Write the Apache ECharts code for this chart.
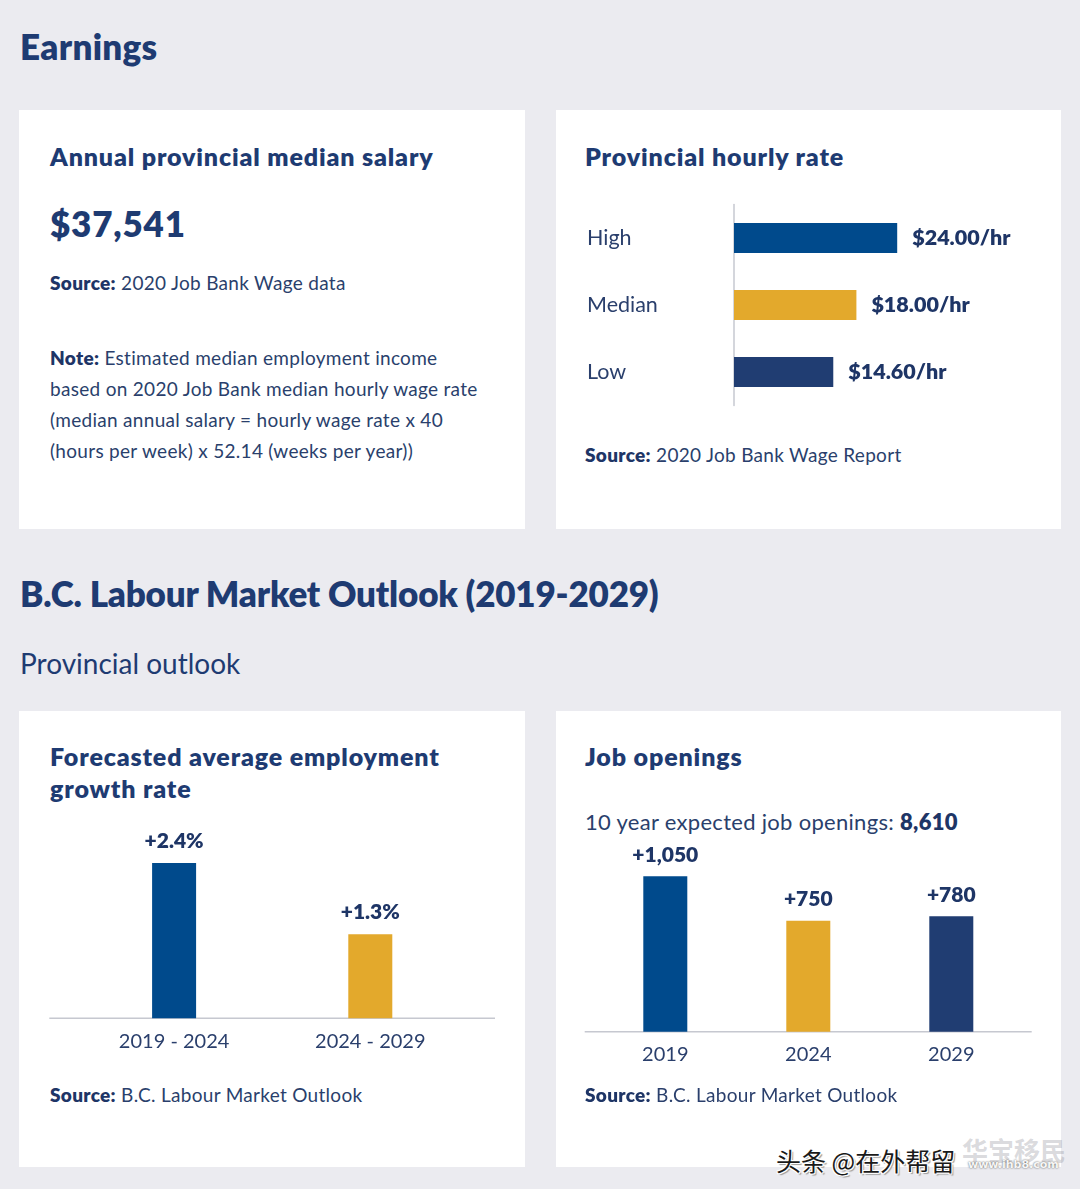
<!DOCTYPE html>
<html>
<head>
<meta charset="utf-8">
<script src="https://cdn.jsdelivr.net/npm/echarts@6/dist/echarts.min.js"></script>
<style>
  html, body { margin:0; padding:0; }
  body { width:1080px; height:1189px; background:#ebebf0; position:relative; overflow:hidden; font-family:'Lato', 'Noto Sans', sans-serif; color:#1f3a6d; }
  .card { position:absolute; background:#ffffff; }
  .t { position:absolute; white-space:nowrap; line-height:1; margin:0; }
  .h1 { font-size:35px; font-weight:800; color:#1e3b72; letter-spacing:-0.2px; }
  .h3 { font-size:25px; font-weight:800; color:#1e3b72; letter-spacing:0.85px; }
  .body { font-size:19px; font-weight:400; color:#2a3f6c; letter-spacing:0.3px; }
  .body b { font-weight:800; color:#1e3566; }
  .chart { position:absolute; }
  .wm { position:absolute; white-space:nowrap; font-family:'Noto Sans CJK SC', sans-serif; }
</style>
</head>
<body>
<div class="t h1" style="left:20px; top:29px; letter-spacing:0.3px;">Earnings</div>

<div class="card" style="left:19px; top:110px; width:506px; height:419px;"></div>
<div class="card" style="left:556px; top:110px; width:505px; height:419px;"></div>

<div class="t h3" style="left:50px; top:144px;">Annual provincial median salary</div>
<div class="t" style="left:50px; top:206px; font-size:35px; font-weight:800; color:#1e3b72; letter-spacing:0.8px;">$37,541</div>
<div class="t body" style="left:50px; top:273px;"><b>Source:</b> 2020 Job Bank Wage data</div>
<div class="t body" style="left:50px; top:342px; line-height:31px;"><b>Note:</b> Estimated median employment income<br>based on 2020 Job Bank median hourly wage rate<br>(median annual salary = hourly wage rate x 40<br>(hours per week) x 52.14 (weeks per year))</div>

<div class="t h3" style="left:585px; top:144px;">Provincial hourly rate</div>
<div id="hourly" class="chart" style="left:556px; top:195px; width:505px; height:225px;"></div>
<div class="t body" style="left:585px; top:445px;"><b>Source:</b> 2020 Job Bank Wage Report</div>

<div class="t h1" style="left:20px; top:576px;">B.C. Labour Market Outlook (2019-2029)</div>
<div class="t" style="left:20px; top:649px; font-size:28px; font-weight:400; color:#1e3b72;">Provincial outlook</div>

<div class="card" style="left:19px; top:711px; width:506px; height:456px;"></div>
<div class="card" style="left:556px; top:711px; width:505px; height:456px;"></div>

<div class="t h3" style="left:50px; top:740px; line-height:32px;">Forecasted average employment<br>growth rate</div>
<div id="growth" class="chart" style="left:19px; top:800px; width:506px; height:280px;"></div>
<div class="t body" style="left:50px; top:1085px;"><b>Source:</b> B.C. Labour Market Outlook</div>

<div class="t h3" style="left:585px; top:744px;">Job openings</div>
<div class="t" style="left:585px; top:811px; font-size:22px; color:#2a3f6c; letter-spacing:0.3px;">10 year expected job openings: <b style="color:#1e3566; font-weight:800;">8,610</b></div>
<div id="jobs" class="chart" style="left:556px; top:830px; width:505px; height:260px;"></div>
<div class="t body" style="left:585px; top:1085px;"><b>Source:</b> B.C. Labour Market Outlook</div>

<div class="wm" style="left:962px; top:1131px; font-size:26px; font-weight:700; color:rgba(130,130,140,0.3);">华宝移民</div>
<div class="wm" style="left:968px; top:1158px; font-size:11px; font-weight:700; font-family:'DejaVu Sans'; color:rgba(255,255,255,0.95); text-shadow:0 0 2px #444;">www.ihb8.com</div>
<div class="wm" style="left:776px; top:1142px; font-size:25px; color:#1a1a1a; text-shadow:1px 1px 0 #fff, -1px -1px 0 #fff, 1px -1px 0 #fff, -1px 1px 0 #fff, 2px 2px 1px #999;">头条 @在外帮留</div>

<script>
// ---- data ----
const hourlyCategories = ['High', 'Median', 'Low'];
const hourlyValues = [24.00, 18.00, 14.60];

const growthCategories = ['2019 - 2024', '2024 - 2029'];
const growthValues = [2.4, 1.3];

const jobCategories = ['2019', '2024', '2029'];
const jobValues = [1050, 750, 780];

// ---- styles ----
const BLUE = '#004a8c', GOLD = '#e3a92c', NAVY = '#203d72';
const TEXT = '#1e3566', TEXT_LIGHT = '#2a3f6c', AXIS = '#c6c8d0';
const FONT = 'Lato';

function colored(values, palette) {
  return values.map((v, i) => ({ value: v, itemStyle: { color: palette[i % palette.length] } }));
}

// Hourly rate (horizontal bars)
const hourly = echarts.init(document.getElementById('hourly'), null, { renderer: 'canvas' });
hourly.setOption({
  animation: false,
  textStyle: { fontFamily: FONT },
  grid: { left: 178, right: 55, top: 9.5, bottom: 14.5 },
  xAxis: { type: 'value', min: 0, max: 40, show: false },
  yAxis: {
    type: 'category', inverse: true, data: hourlyCategories,
    axisLine: { lineStyle: { color: AXIS, width: 1.5 } },
    axisTick: { show: false },
    axisLabel: { align: 'left', margin: 147, fontSize: 21.5, color: TEXT_LIGHT, fontFamily: FONT }
  },
  series: [{
    type: 'bar', barWidth: 30,
    data: colored(hourlyValues, [BLUE, GOLD, NAVY]),
    label: {
      show: true, position: 'right', distance: 15,
      formatter: p => '$' + p.value.toFixed(2) + '/hr',
      fontSize: 21.5, fontWeight: 800, color: TEXT, fontFamily: FONT
    }
  }]
});

// Growth rate
const growth = echarts.init(document.getElementById('growth'), null, { renderer: 'canvas' });
growth.setOption({
  animation: false,
  textStyle: { fontFamily: FONT },
  grid: { left: 57, right: 56.6, top: 24.3, bottom: 61.7 },
  xAxis: {
    type: 'category', data: growthCategories,
    axisLine: { show: false }, axisTick: { show: false },
    axisLabel: { margin: 13, fontSize: 20, color: TEXT_LIGHT, fontFamily: FONT }
  },
  yAxis: { type: 'value', min: 0, max: 3, show: false },
  graphic: [{ type: 'line', z: -1, shape: { x1: 30.3, y1: 218.3, x2: 476, y2: 218.3 }, style: { stroke: AXIS, lineWidth: 1.5 } }],
  series: [{
    type: 'bar', barWidth: 44,
    data: colored(growthValues, [BLUE, GOLD]),
    label: {
      show: true, position: 'top', distance: 11,
      formatter: p => '+' + p.value.toFixed(1) + '%',
      fontSize: 21, fontWeight: 800, color: TEXT, fontFamily: FONT
    }
  }]
});

// Job openings
const jobs = echarts.init(document.getElementById('jobs'), null, { renderer: 'canvas' });
jobs.setOption({
  animation: false,
  textStyle: { fontFamily: FONT },
  grid: { left: 37.8, right: 38.2, top: 24.1, bottom: 58.3 },
  xAxis: {
    type: 'category', data: jobCategories,
    axisLine: { show: false }, axisTick: { show: false },
    axisLabel: { margin: 13, fontSize: 20, color: TEXT_LIGHT, fontFamily: FONT }
  },
  yAxis: { type: 'value', min: 0, max: 1200, show: false },
  graphic: [{ type: 'line', z: -1, shape: { x1: 28.7, y1: 201.7, x2: 475.7, y2: 201.7 }, style: { stroke: AXIS, lineWidth: 1.5 } }],
  series: [{
    type: 'bar', barWidth: 44,
    data: colored(jobValues, [BLUE, GOLD, NAVY]),
    label: {
      show: true, position: 'top', distance: 11,
      formatter: p => '+' + p.value.toLocaleString('en-US'),
      fontSize: 21, fontWeight: 800, color: TEXT, fontFamily: FONT
    }
  }]
});
</script>
</body>
</html>
